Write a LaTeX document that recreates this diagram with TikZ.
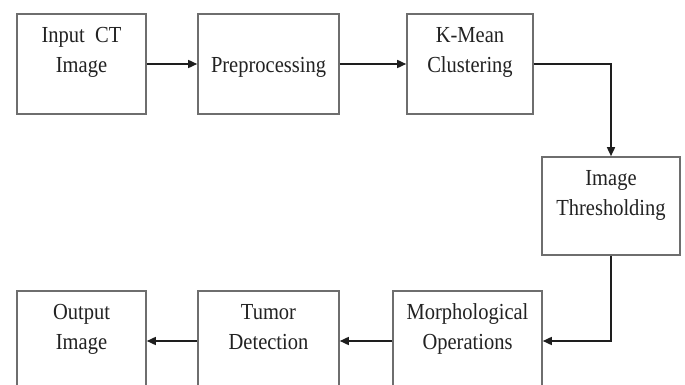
\documentclass[tikz,border=0pt]{standalone}
\usepackage{fontspec}
\usepackage{graphicx}
\setmainfont{Liberation Serif}
\usetikzlibrary{arrows.meta}
\definecolor{boxgray}{HTML}{6E6E6E}
\definecolor{txt}{HTML}{222222}
\definecolor{arr}{HTML}{1E1E1E}
\newcommand\stx[1]{\scalebox{1}[1.12]{\begin{tabular}[b]{@{}c@{}}#1\end{tabular}}}
\tikzset{
  stepbox/.style={draw=boxgray, line width=1.6pt, fill=white, inner sep=0pt, rectangle},
  steptext/.style={anchor=base, inner sep=0pt, text=txt,
    font=\fontsize{20.5}{26.8}\selectfont},
  conn/.style={draw=arr, line width=1.6pt, -{Triangle[length=9pt,width=8pt]}}
}
\begin{document}
\begin{tikzpicture}[x=1pt,y=-1pt]
\useasboundingbox (0,0) rectangle (685,385);
\clip (0,0) rectangle (685,385);
% top row
\node[stepbox, minimum width=129pt, minimum height=100pt] (b1) at (81.5,64) {};
\node[stepbox, minimum width=141pt, minimum height=100pt] (b2) at (268.5,64) {};
\node[stepbox, minimum width=126pt, minimum height=100pt] (b3) at (470,64) {};
% right
\node[stepbox, minimum width=138pt, minimum height=98pt] (b4) at (611,206) {};
% bottom row
\node[stepbox, minimum width=149pt, minimum height=100pt] (b7) at (467.5,341) {};
\node[stepbox, minimum width=141pt, minimum height=100pt] (b6) at (268.5,341) {};
\node[stepbox, minimum width=129pt, minimum height=100pt] (b5) at (81.5,341) {};
% texts (anchor base = last line)
\node[steptext] (t1) at ([yshift=-59pt]b1.north) {\stx{Input\ \ CT\\Image}};
\node[steptext] (t2) at ([yshift=-59pt]b2.north) {\stx{Preprocessing}};
\node[steptext] (t3) at ([yshift=-59pt]b3.north) {\stx{K-Mean\\Clustering}};
\node[steptext] (t4) at ([yshift=-59pt]b4.north) {\stx{Image\\Thresholding}};
\node[steptext] (t7) at ([yshift=-59pt]b7.north) {\stx{Morphological\\Operations}};
\node[steptext] (t6) at ([yshift=-59pt]b6.north) {\stx{Tumor\\Detection}};
\node[steptext] (t5) at ([yshift=-59pt]b5.north) {\stx{Output\\Image}};
% connectors
\draw[conn] (b1.east) -- (b2.west);
\draw[conn] (b2.east) -- (b3.west);
\draw[conn] (b3.east) -| (b4.north);
\draw[conn] (b4.south) |- (b7.east);
\draw[conn] (b7.west) -- (b6.east);
\draw[conn] (b6.west) -- (b5.east);
\end{tikzpicture}
\end{document}
